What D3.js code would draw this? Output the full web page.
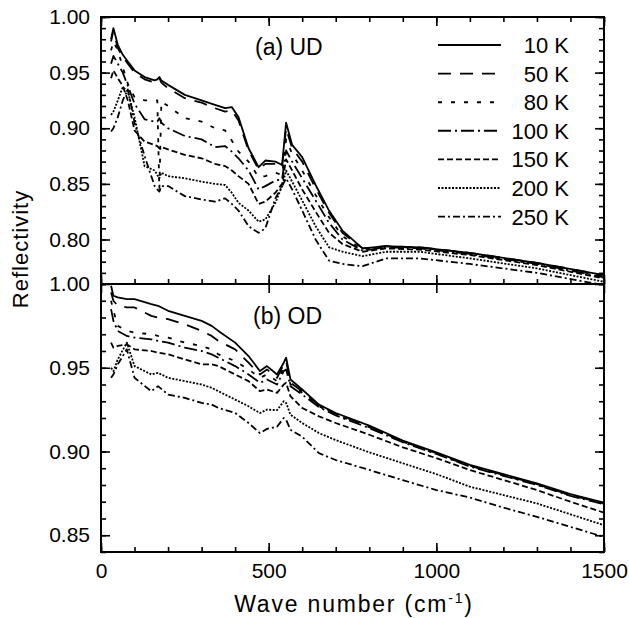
<!DOCTYPE html>
<html><head><meta charset="utf-8">
<script src="https://cdn.jsdelivr.net/npm/d3@7"></script>
<style>
body{margin:0;background:#fff}
text{font-family:"Liberation Sans",Arial,Helvetica,sans-serif;fill:#000}
</style>
</head><body>
<svg id="chart" width="629" height="618"></svg>
<script>
// ---------- data ----------
const temps = ["10 K","50 K","80 K","100 K","150 K","200 K","250 K"];
const dashes = ["", "13,9", "4,9", "13,4,2,4", "6,3", "2,1.5", "7,3,2,3"];
const xTicks = [0, 500, 1000, 1500];
const yTicksA = [0.80, 0.85, 0.90, 0.95, 1.00];
const yTicksB = [0.85, 0.90, 0.95, 1.00];

// (a) UD
const waveA = [30,37,50,65,80,100,130,160,168,174,180,200,250,300,340,370,390,410,440,470,490,520,540,552,570,600,640,680,720,780,850,950,1100,1300,1500];
const ud10  = [.980,.990,.975,.966,.960,.952,.946,.943,.944,.946,.943,.939,.930,.925,.921,.918,.919,.910,.882,.865,.871,.870,.867,.905,.885,.874,.849,.826,.808,.792,.794,.793,.788,.779,.768];
const ud50  = [.978,.988,.972,.964,.958,.950,.944,.941,.942,.945,.941,.936,.927,.923,.918,.915,.916,.907,.880,.863,.868,.868,.865,.900,.882,.870,.846,.824,.806,.792,.794,.793,.788,.779,.768];
const ud80  = [.970,.978,.970,.955,.940,.928,.925,.925,.925,.845,.924,.920,.909,.906,.900,.898,.889,.879,.870,.856,.857,.860,.858,.890,.877,.862,.840,.820,.803,.791,.793,.793,.787,.778,.767];
const ud100 = [.958,.965,.958,.950,.938,.922,.908,.906,.906,.909,.905,.900,.893,.890,.883,.884,.879,.873,.862,.845,.848,.853,.854,.880,.870,.855,.835,.815,.800,.790,.793,.792,.787,.778,.766];
const ud150 = [.945,.952,.945,.938,.925,.898,.888,.885,.884,.882,.883,.881,.876,.873,.868,.866,.862,.857,.850,.832,.834,.842,.850,.872,.862,.845,.825,.806,.796,.789,.792,.791,.786,.777,.765];
const ud200 = [.912,.915,.925,.937,.933,.910,.866,.862,.858,.855,.860,.857,.855,.852,.850,.849,.842,.833,.826,.816,.818,.833,.848,.862,.852,.835,.812,.793,.789,.785,.789,.789,.783,.774,.762];
const ud250 = [.897,.900,.910,.925,.935,.905,.875,.848,.845,.843,.848,.848,.839,.836,.834,.837,.832,.826,.812,.806,.810,.837,.848,.855,.845,.826,.800,.781,.778,.776,.783,.783,.778,.770,.759];

// (b) OD
const waveB = [30,37,50,77,100,150,170,200,250,300,330,350,400,440,474,495,525,545,552,565,600,650,700,800,900,1000,1100,1200,1300,1400,1500];
const od10  = [.999,.993,.992,.991,.991,.988,.987,.984,.981,.978,.975,.972,.965,.957,.948,.951,.946,.953,.956,.943,.937,.928,.923,.9155,.9065,.8995,.892,.8865,.881,.8745,.8695];
const od50  = [.995,.990,.987,.986,.986,.981,.980,.979,.976,.972,.969,.966,.961,.953,.946,.949,.944,.952,.954,.941,.936,.9275,.9225,.9150,.9060,.8990,.8915,.8860,.8805,.8740,.8690];
const od80  = [.990,.984,.975,.972,.971,.970,.969,.968,.965,.963,.961,.958,.954,.949,.944,.946,.942,.950,.951,.940,.935,.9270,.9220,.9145,.9058,.8988,.8913,.8858,.8803,.8738,.8688];
const od100 = [.985,.978,.972,.969,.968,.967,.966,.965,.962,.960,.958,.956,.951,.946,.941,.943,.940,.948,.949,.939,.934,.9265,.9215,.9140,.9055,.8985,.8910,.8855,.8800,.8735,.8685];
const od150 = [.965,.962,.963,.964,.961,.960,.959,.958,.955,.952,.952,.951,.946,.942,.936,.937,.935,.940,.941,.933,.926,.9210,.9170,.9100,.9025,.8960,.8889,.8830,.8770,.8700,.8635];
const od200 = [.950,.948,.955,.965,.951,.946,.947,.944,.942,.940,.938,.936,.931,.927,.923,.925,.9247,.930,.929,.922,.917,.9110,.9068,.8995,.8930,.8865,.8790,.8740,.8690,.8625,.8560];
const od250 = [.944,.946,.952,.961,.944,.936,.939,.934,.932,.929,.928,.926,.923,.917,.911,.9135,.9148,.920,.919,.913,.9088,.8990,.8949,.8890,.8829,.8770,.8725,.8665,.8610,.8550,.8490];

const seriesA = [ud10, ud50, ud80, ud100, ud150, ud200, ud250];
const seriesB = [od10, od50, od80, od100, od150, od200, od250];

// ---------- layout ----------
const L = 101, R = 604, TA = 17, MID = 284, BB = 552;
const FS = 21;
const svg = d3.select("#chart");

const x = d3.scaleLinear().domain([0, 1500]).range([L, R]);
const yA = d3.scaleLinear().domain([0.76, 1.00]).range([MID, TA]);
const yB = d3.scaleLinear().domain([0.84, 1.00]).range([BB, MID]);

const xMinor = d3.range(0, 1501, 100);
const yMinorA = d3.range(76, 101, 1).map(d => d / 100);
const yMinorB = d3.range(84, 101, 1).map(d => d / 100);

function styleAxis(g) {
  g.select(".domain").remove();
  g.selectAll("line").attr("stroke", "#000").attr("stroke-width", 1.6);
  g.selectAll("text").attr("font-size", FS).attr("font-family", '"Liberation Sans",Arial,sans-serif').attr("fill", "#000");
}

function panelAxes(y, top, bottom, minorY, majorY, opts) {
  svg.append("g").attr("transform", `translate(${L},0)`)
    .call(d3.axisLeft(y).tickValues(minorY).tickSize(-5).tickFormat("")).call(styleAxis);
  svg.append("g").attr("transform", `translate(${L},0)`)
    .call(d3.axisLeft(y).tickValues(majorY).tickSize(-9).tickPadding(11).tickFormat(d3.format(".2f"))).call(styleAxis);
  svg.append("g").attr("transform", `translate(${R},0)`)
    .call(d3.axisRight(y).tickValues(minorY).tickSize(-5).tickFormat("")).call(styleAxis);
  svg.append("g").attr("transform", `translate(${R},0)`)
    .call(d3.axisRight(y).tickValues(majorY).tickSize(-9).tickFormat("")).call(styleAxis);
  if (opts.topMinor) {
    svg.append("g").attr("transform", `translate(0,${top})`)
      .call(d3.axisTop(x).tickValues(xMinor).tickSize(-5).tickFormat("")).call(styleAxis);
  }
  svg.append("g").attr("transform", `translate(0,${top})`)
    .call(d3.axisTop(x).tickValues(xTicks).tickSize(-9).tickFormat("")).call(styleAxis);
  svg.append("g").attr("transform", `translate(0,${bottom})`)
    .call(d3.axisBottom(x).tickValues(xMinor).tickSize(-5).tickFormat("")).call(styleAxis);
  svg.append("g").attr("transform", `translate(0,${bottom})`)
    .call(d3.axisBottom(x).tickValues(xTicks).tickSize(-9).tickPadding(11)
      .tickFormat(opts.labels ? d3.format("d") : "")).call(styleAxis);
  svg.append("rect").attr("x", L).attr("y", top).attr("width", R - L).attr("height", bottom - top)
    .attr("fill", "none").attr("stroke", "#000").attr("stroke-width", 2);
}

function drawCurves(wave, series, y, top, bottom, id) {
  svg.append("clipPath").attr("id", id).append("rect")
    .attr("x", L).attr("y", top).attr("width", R - L).attr("height", bottom - top);
  const line = d3.line().x((d, i) => x(wave[i])).y(d => y(d));
  const g = svg.append("g").attr("clip-path", `url(#${id})`);
  series.forEach((s, k) => {
    g.append("path").attr("d", line(s))
      .attr("fill", "none").attr("stroke", "#000").attr("stroke-width", 1.8)
      .attr("stroke-linejoin", "round")
      .attr("stroke-dasharray", dashes[k] || null);
  });
}

drawCurves(waveA, seriesA, yA, TA, MID, "clipA");
drawCurves(waveB, seriesB, yB, MID, BB, "clipB");

panelAxes(yA, TA, MID, yMinorA, yTicksA, {topMinor: true, labels: false});
panelAxes(yB, MID, BB, yMinorB, yTicksB, {topMinor: false, labels: true});

// panel labels
svg.append("text").attr("x", 255).attr("y", 55).attr("font-size", 23).text("(a) UD");
svg.append("text").attr("x", 253).attr("y", 324).attr("font-size", 23).text("(b) OD");

// legend
const leg = svg.append("g");
temps.forEach((t, k) => {
  const yy = 45 + k * 28.6;
  leg.append("line").attr("x1", 438).attr("x2", 501).attr("y1", yy).attr("y2", yy)
    .attr("stroke", "#000").attr("stroke-width", 1.9).attr("stroke-dasharray", dashes[k] || null);
  leg.append("text").attr("x", 569).attr("y", yy).attr("dy", "0.36em")
    .attr("text-anchor", "end").attr("font-size", 22).text(t);
});

// axis titles
svg.append("text").attr("transform", "translate(28,249) rotate(-90)")
  .attr("text-anchor", "middle").attr("font-size", 22).attr("letter-spacing", "1px").text("Reflectivity");
const xt = svg.append("text").attr("x", 354).attr("y", 612).attr("text-anchor", "middle")
  .attr("font-size", 23).attr("letter-spacing", "1.8px");
xt.append("tspan").text("Wave number (cm");
xt.append("tspan").attr("font-size", 14).attr("dy", -9).text("-1");
xt.append("tspan").attr("dy", 9).text(")");
</script>
</body></html>
